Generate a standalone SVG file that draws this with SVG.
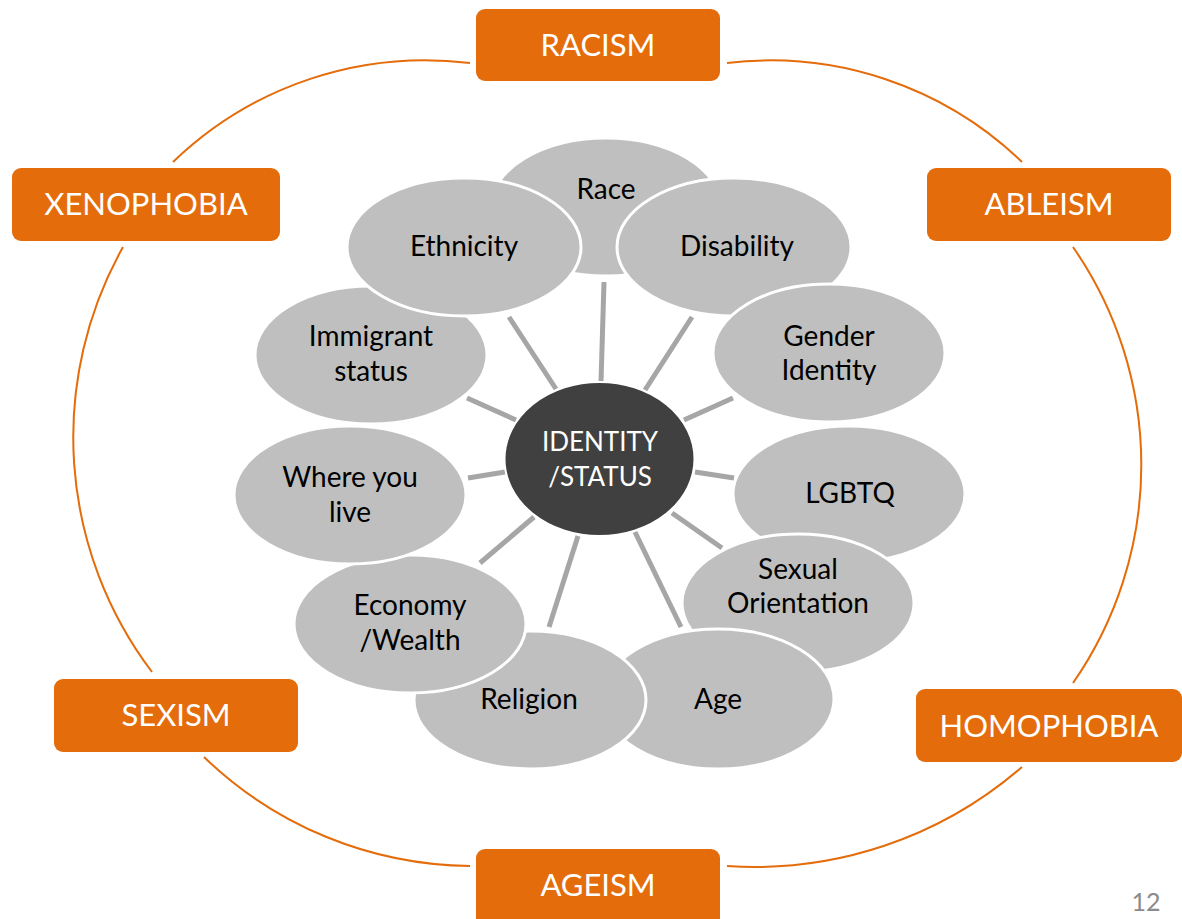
<svg xmlns="http://www.w3.org/2000/svg" width="1182" height="919" viewBox="0 0 1182 919">
<style>
.arc{fill:none;stroke:#E46C0A;stroke-width:2}
.spoke{stroke:#A6A6A6;stroke-width:5;stroke-linecap:butt}
.box{fill:#E46C0A}
.btxt{font-family:Lato,"Open Sans",sans-serif;font-size:31px;fill:#FFFFFF;text-anchor:middle}
.oval{fill:#BFBFBF;stroke:#FFFFFF;stroke-width:3}
.otxt{font-family:Lato,"Open Sans",sans-serif;font-size:28px;fill:#000000;text-anchor:middle}
.ctr{fill:#404040;stroke:#FFFFFF;stroke-width:2}
.ctxt{font-family:Lato,"Open Sans",sans-serif;font-size:26px;fill:#FFFFFF;text-anchor:middle}
.pg{font-family:Lato,"Open Sans",sans-serif;font-size:25px;fill:#8B8B8B;text-anchor:middle}
</style>
<rect width="1182" height="919" fill="#FFFFFF"/>
<g id="connectors">
<path class="arc" d="M470,63 A363,363 0 0 0 173,162"/>
<path class="arc" d="M727,63 A363,363 0 0 1 1022,162"/>
<path class="arc" d="M123,247 A389,389 0 0 0 152,672"/>
<path class="arc" d="M1073,247 A382,382 0 0 1 1073,683"/>
<path class="arc" d="M204,757 A388,388 0 0 0 470,866"/>
<path class="arc" d="M727,866 A407,407 0 0 0 1022,767"/>
<line class="spoke" x1="601" y1="382" x2="604" y2="282"/>
<line class="spoke" x1="645" y1="390" x2="692" y2="317"/>
<line class="spoke" x1="684" y1="420" x2="733" y2="398"/>
<line class="spoke" x1="695" y1="472" x2="734" y2="478"/>
<line class="spoke" x1="672" y1="513" x2="722" y2="548"/>
<line class="spoke" x1="635" y1="532" x2="681" y2="627"/>
<line class="spoke" x1="578" y1="536" x2="549" y2="627"/>
<line class="spoke" x1="534" y1="517" x2="480" y2="563"/>
<line class="spoke" x1="505" y1="472" x2="468" y2="478"/>
<line class="spoke" x1="516" y1="420" x2="467" y2="398"/>
<line class="spoke" x1="556" y1="389" x2="509" y2="317"/>
</g>
<g id="racism"><rect class="box" x="476" y="9" width="244" height="72" rx="9"/><text class="btxt" x="598" y="56">RACISM</text></g>
<g id="ableism"><rect class="box" x="927" y="168" width="244" height="73" rx="9"/><text class="btxt" x="1049" y="215">ABLEISM</text></g>
<g id="homophobia"><rect class="box" x="916" y="689" width="266" height="73" rx="9"/><text class="btxt" x="1049" y="737">HOMOPHOBIA</text></g>
<g id="ageism"><rect class="box" x="476" y="849" width="244" height="80" rx="9"/><text class="btxt" x="598" y="896">AGEISM</text></g>
<g id="sexism"><rect class="box" x="54" y="679" width="244" height="73" rx="9"/><text class="btxt" x="176" y="726">SEXISM</text></g>
<g id="xenophobia"><rect class="box" x="12" y="168" width="268" height="73" rx="9"/><text class="btxt" x="146" y="215">XENOPHOBIA</text></g>
<g id="race"><ellipse class="oval" cx="606" cy="207" rx="115" ry="69"/><text class="otxt" x="606" y="199">Race</text></g>
<g id="disability"><ellipse class="oval" cx="734" cy="247" rx="117" ry="69"/><text class="otxt" x="737" y="256">Disability</text></g>
<g id="gender-identity"><ellipse class="oval" cx="829" cy="353" rx="116" ry="69"/><text class="otxt" x="829" y="346">Gender</text><text class="otxt" x="829" y="380">Identity</text></g>
<g id="lgbtq"><ellipse class="oval" cx="849" cy="494" rx="116" ry="68"/><text class="otxt" x="850" y="503">LGBTQ</text></g>
<g id="sexual-orientation"><ellipse class="oval" cx="798" cy="603" rx="116" ry="69"/><text class="otxt" x="798" y="579">Sexual</text><text class="otxt" x="798" y="613">Orientation</text></g>
<g id="age"><ellipse class="oval" cx="718" cy="699" rx="116" ry="70"/><text class="otxt" x="718" y="709">Age</text></g>
<g id="religion"><ellipse class="oval" cx="530" cy="700" rx="116" ry="69"/><text class="otxt" x="529" y="709">Religion</text></g>
<g id="economy"><ellipse class="oval" cx="410" cy="624" rx="116" ry="69"/><text class="otxt" x="410" y="615">Economy</text><text class="otxt" x="410" y="650">/Wealth</text></g>
<g id="where-you-live"><ellipse class="oval" cx="350" cy="495" rx="116" ry="69"/><text class="otxt" x="350" y="487">Where you</text><text class="otxt" x="350" y="522">live</text></g>
<g id="immigrant-status"><ellipse class="oval" cx="371" cy="355" rx="116" ry="69"/><text class="otxt" x="371" y="346">Immigrant</text><text class="otxt" x="371" y="381">status</text></g>
<g id="ethnicity"><ellipse class="oval" cx="464" cy="247" rx="117" ry="69"/><text class="otxt" x="464" y="256">Ethnicity</text></g>
<g id="identity-status"><ellipse class="ctr" cx="599.5" cy="459" rx="95" ry="77"/><text class="ctxt" x="600" y="451">IDENTITY</text><text class="ctxt" x="600" y="486">/STATUS</text></g>
<text class="pg" x="1146" y="911">12</text>
</svg>
